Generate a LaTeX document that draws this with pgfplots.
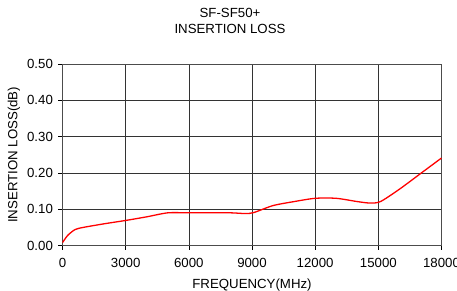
\documentclass[border=0pt]{standalone}
\usepackage{pgfplots}
\pgfplotsset{compat=1.18}
\usepackage{fontspec}
\setmainfont{Liberation Sans}
\begin{document}
\fontsize{13.3}{15}\selectfont
\begin{tikzpicture}
\useasboundingbox (-62.5bp,-45.5bp) rectangle (394.5bp,245.5bp);
\begin{axis}[
  at={(0,0)}, anchor=south west,
  scale only axis, width=379bp, height=181.5bp,
  xmin=0, xmax=18000, ymin=0, ymax=0.5,
  xtick={0,3000,...,18000}, ytick={0,0.1,...,0.5},
  scaled x ticks=false,
  /pgf/number format/assume math mode=true,
  xticklabel style={/pgf/number format/set thousands separator={}, /pgf/number format/fixed, yshift=-4bp},
  yticklabel style={/pgf/number format/fixed, /pgf/number format/fixed zerofill, /pgf/number format/precision=2, xshift=-1bp},
  tick align=outside, xtick pos=bottom, ytick pos=left,
  major tick length=4bp,
  tick style={black, line width=0.6pt},
  grid=major, major grid style={black!80, line width=0.6pt},
  axis line style={black!70, line width=0.6pt},
  font=\fontsize{13.3}{15}\selectfont,
  xlabel={FREQUENCY(MHz)}, ylabel={INSERTION LOSS(dB)},
  xlabel style={yshift=-2bp}, ylabel style={yshift=-2bp},
  title={SF-SF50+\\INSERTION LOSS}, title style={align=center, at={(0.442,1)}, yshift=20bp, font=\fontsize{13.3}{15.5}\selectfont},
]
\addplot[red, line width=1.3pt, smooth, tension=0.45] coordinates {
(0,0.008) (250,0.028) (600,0.044) (1000,0.050) (2000,0.060) (3000,0.069)
(4000,0.079) (5000,0.090) (6000,0.090) (7000,0.090) (8000,0.090) (8700,0.088)
(9100,0.091) (10000,0.110) (11000,0.121) (12000,0.130) (13000,0.130)
(14000,0.121) (14600,0.117) (15100,0.121) (16000,0.155) (17000,0.198) (18000,0.241)
};
\end{axis}
\end{tikzpicture}
\end{document}
